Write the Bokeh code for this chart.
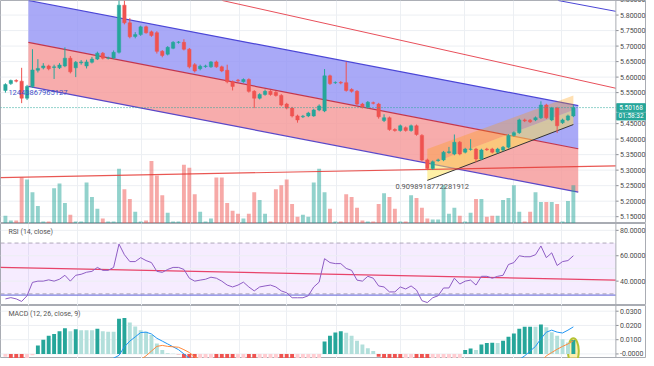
from bokeh.plotting import figure
from bokeh.layouts import column
from bokeh.models import (Range1d, FixedTicker, Span, Label, BoxAnnotation, ColumnDataSource)
from bokeh.core.properties import value
from bokeh.embed import file_html
from bokeh.resources import INLINE

# ---------------- data ----------------
opens = [5.557,5.579,5.589,5.587,5.532,5.570,5.622,5.630,5.636,5.631,
         5.630,5.636,5.661,5.630,5.646,5.636,5.648,5.658,5.677,5.661,
         5.662,5.680,5.832,5.775,5.731,5.737,5.762,5.746,5.743,5.683,
         5.674,5.693,5.712,5.712,5.690,5.640,5.627,5.634,5.633,5.649,
         5.633,5.622,5.585,5.590,5.585,5.592,5.554,5.532,5.544,5.554,
         5.551,5.541,5.513,5.500,5.475,5.472,5.475,5.475,5.494,5.491,
         5.604,5.582,5.583,5.582,5.560,5.554,5.513,5.503,5.517,5.513,
         5.460,5.469,5.431,5.428,5.437,5.428,5.443,5.412,5.333,5.305,
         5.331,5.333,5.357,5.352,5.390,5.358,5.367,5.368,5.336,5.368,
         5.368,5.358,5.365,5.374,5.412,5.421,5.462,5.461,5.462,5.469,
         5.510,5.462,5.500,5.453,5.462,5.475]
highs = [5.580,5.592,5.593,5.630,5.575,5.690,5.658,5.645,5.640,5.640,
         5.645,5.696,5.668,5.652,5.655,5.656,5.665,5.682,5.681,5.666,
         5.686,5.847,5.847,5.790,5.745,5.766,5.766,5.750,5.748,5.687,
         5.700,5.716,5.716,5.722,5.694,5.645,5.640,5.640,5.652,5.653,
         5.637,5.640,5.589,5.594,5.596,5.596,5.558,5.548,5.560,5.558,
         5.555,5.545,5.517,5.504,5.479,5.478,5.488,5.498,5.512,5.626,
         5.608,5.586,5.587,5.649,5.564,5.558,5.517,5.523,5.521,5.517,
         5.480,5.473,5.435,5.447,5.441,5.447,5.447,5.416,5.337,5.331,
         5.337,5.362,5.375,5.415,5.394,5.372,5.400,5.372,5.369,5.372,
         5.372,5.372,5.378,5.416,5.425,5.466,5.466,5.465,5.473,5.522,
         5.514,5.504,5.504,5.466,5.479,5.510]
lows = [5.550,5.575,5.583,5.516,5.526,5.565,5.615,5.625,5.622,5.594,
        5.626,5.632,5.612,5.600,5.640,5.628,5.644,5.655,5.657,5.657,
        5.658,5.676,5.770,5.725,5.725,5.733,5.740,5.730,5.676,5.664,
        5.670,5.690,5.708,5.686,5.628,5.615,5.622,5.630,5.630,5.630,
        5.616,5.580,5.557,5.584,5.582,5.550,5.500,5.528,5.540,5.540,
        5.537,5.506,5.496,5.470,5.453,5.468,5.471,5.472,5.490,5.487,
        5.575,5.578,5.577,5.553,5.550,5.509,5.499,5.499,5.512,5.466,
        5.455,5.427,5.424,5.424,5.424,5.424,5.411,5.329,5.300,5.301,
        5.327,5.329,5.353,5.348,5.348,5.354,5.363,5.325,5.332,5.362,
        5.354,5.354,5.361,5.370,5.408,5.417,5.455,5.452,5.458,5.465,
        5.465,5.458,5.420,5.449,5.458,5.471]
closes = [5.576,5.589,5.587,5.532,5.570,5.623,5.628,5.636,5.627,5.633,
          5.639,5.661,5.617,5.648,5.649,5.649,5.658,5.677,5.661,5.662,
          5.680,5.832,5.775,5.730,5.737,5.762,5.743,5.734,5.683,5.670,
          5.696,5.712,5.713,5.690,5.633,5.620,5.635,5.636,5.649,5.633,
          5.620,5.585,5.570,5.588,5.592,5.554,5.532,5.544,5.554,5.544,
          5.541,5.510,5.500,5.475,5.462,5.474,5.484,5.494,5.507,5.604,
          5.579,5.583,5.581,5.557,5.554,5.513,5.503,5.519,5.516,5.472,
          5.469,5.431,5.428,5.443,5.428,5.443,5.415,5.333,5.305,5.327,
          5.333,5.358,5.359,5.390,5.352,5.368,5.368,5.336,5.365,5.366,
          5.358,5.368,5.374,5.412,5.421,5.462,5.459,5.456,5.469,5.510,
          5.469,5.500,5.443,5.462,5.475,5.50168]
volumes = [8,3,3,47,45,32,18,2,2,36,
           41,21,9,2,2,42,27,15,5,2,
           2,56,35,25,12,2,3,64,49,29,
           11,2,2,60,57,30,12,2,5,47,
           47,21,13,10,5,10,32,24,10,2,
           35,39,45,20,7,9,7,42,56,32,
           15,2,2,30,27,16,3,2,2,20,
           31,27,15,2,2,29,26,16,5,4,
           4,39,10,16,8,2,11,25,25,7,
           8,8,24,26,39,12,2,12,32,22,
           22,22,20,2,23,39]
rsi = [26,27,26,24,28.5,39,40,40,41,40,
       41.5,44.6,40,44.6,45.4,47,47.7,50.8,48.5,48.5,
       50.8,69.2,60.8,55.4,55.4,58.5,56.2,54.6,47.7,46.9,
       49.2,50.8,50.8,49.2,42.3,40,40.8,41.5,43.1,42.3,
       40,36.9,35.4,36.9,39.2,35.4,32.3,35.4,36.2,36.9,
       35.4,32.3,30.8,26.9,26.9,26.9,28.5,35.4,39.2,57.7,
       54.6,53.8,53.8,50,48.5,40.8,40,43.8,42.3,36.2,
       35.4,31.5,31.5,35.4,33.8,36.2,33,24.6,23.1,26.9,
       28.5,34.6,34.6,42.3,37.7,40,40.8,36.9,43.8,43.8,
       42.3,43.8,44.6,53.1,54.6,60,59.2,59.2,60.8,67.7,
       58.5,62.3,52.3,55.4,56.2,60]
macd_hist = [-0.002,-0.003,-0.004,-0.006,-0.004,-0.001,0.006,0.010,0.0127,0.014,
             0.016,0.018,0.016,0.0173,0.0167,0.0167,0.0167,0.0177,0.016,0.0155,
             0.0155,0.0247,0.0253,0.022,0.0193,0.0167,0.0155,0.0133,0.0073,0.0027,
             0.0004,0.0002,-0.0003,-0.004,-0.008,-0.010,-0.009,-0.008,-0.006,-0.007,
             -0.009,-0.010,-0.011,-0.010,-0.009,-0.010,-0.012,-0.011,-0.010,-0.009,
             -0.009,-0.011,-0.013,-0.015,-0.014,-0.012,-0.010,-0.007,-0.003,0.0087,
             0.0127,0.015,0.016,0.0148,0.0127,0.0093,0.0067,0.004,0.002,-0.002,
             -0.004,-0.007,-0.009,-0.010,-0.009,-0.008,-0.010,-0.014,-0.016,-0.015,
             -0.013,-0.010,-0.008,-0.005,-0.004,0.0027,0.0038,0.0027,0.0067,0.0077,
             0.0078,0.0076,0.0093,0.012,0.0143,0.0177,0.019,0.0191,0.019,0.0207,
             0.0187,0.0153,0.0127,0.0103,0.008,0.0097]
macd_line = [-0.030,-0.029,-0.028,-0.029,-0.028,-0.025,-0.023,-0.021,-0.019,-0.017,
             -0.015,-0.013,-0.012,-0.010,-0.009,-0.008,-0.007,-0.005,-0.005,-0.004,
             -0.003,-0.001,0.005,0.009,0.012,0.015,0.0153,0.014,0.011,0.009,
             0.007,0.005,0.003,0.000,-0.003,-0.006,-0.008,-0.009,-0.010,-0.012,
             -0.014,-0.017,-0.019,-0.020,-0.021,-0.023,-0.025,-0.026,-0.027,-0.028,
             -0.030,-0.032,-0.034,-0.036,-0.037,-0.037,-0.036,-0.034,-0.031,-0.024,
             -0.020,-0.017,-0.015,-0.014,-0.014,-0.015,-0.016,-0.016,-0.017,-0.019,
             -0.021,-0.023,-0.025,-0.026,-0.026,-0.026,-0.028,-0.032,-0.035,-0.035,
             -0.034,-0.032,-0.030,-0.027,-0.026,-0.024,-0.022,-0.021,-0.018,-0.016,
             -0.014,-0.012,-0.010,-0.007,-0.005,-0.004,-0.0013,0.002,0.0053,0.0107,
             0.0153,0.0167,0.0153,0.0147,0.0167,0.019]
signal_line = [-0.026,-0.027,-0.027,-0.026,-0.025,-0.024,-0.023,-0.022,-0.021,-0.020,
               -0.019,-0.018,-0.017,-0.016,-0.015,-0.014,-0.013,-0.012,-0.011,-0.010,
               -0.009,-0.008,-0.007,-0.006,-0.005,-0.004,-0.0013,0.002,0.0053,0.006,
               0.0053,0.005,0.0047,0.003,0.001,-0.002,-0.004,-0.005,-0.006,-0.007,
               -0.008,-0.009,-0.010,-0.011,-0.012,-0.013,-0.014,-0.015,-0.016,-0.017,
               -0.018,-0.019,-0.020,-0.021,-0.022,-0.023,-0.024,-0.025,-0.026,-0.027,
               -0.027,-0.027,-0.026,-0.025,-0.024,-0.023,-0.022,-0.021,-0.020,-0.020,
               -0.020,-0.020,-0.020,-0.021,-0.021,-0.022,-0.022,-0.023,-0.024,-0.025,
               -0.026,-0.027,-0.028,-0.028,-0.027,-0.026,-0.025,-0.024,-0.023,-0.022,
               -0.021,-0.020,-0.019,-0.018,-0.017,-0.015,-0.013,-0.011,-0.009,-0.006,
               -0.0013,0.001,0.0033,0.0053,0.007,0.0093]

n = len(closes)
for arr in (opens, highs, lows, volumes, rsi, macd_hist, macd_line, signal_line):
    assert len(arr) == n
idx = list(range(n))

last_price = 5.50168
last_price_label = "5.50168"
countdown = "01:58:32"
countdown_level = 5.4734
price_ticks = [5.15, 5.20, 5.25, 5.30, 5.35, 5.40, 5.45, 5.55, 5.60, 5.65, 5.70, 5.75, 5.80, 5.85]
price_labels = ["5.15000", "5.20000", "5.25000", "5.30000", "5.35000", "5.40000", "5.45000",
                "5.55000", "5.60000", "5.65000", "5.70000", "5.75000", "5.80000", "5.85000"]
rsi_ticks = [40, 60, 80]
rsi_labels = ["40.0000", "60.0000", "80.0000"]
rsi_grid = [40, 50, 60, 80]
macd_ticks = [0.0, 0.01, 0.02, 0.03]
macd_labels = ["-0.0000", "0.0100", "0.0200", "0.0300"]
day_lines = [4.2, 13.3, 25.2, 34.3, 43.3, 52.0, 61.2, 73.0, 84.9, 94.0, 102.8]

# drawing tools (anchor points, in bar index / price)
chan_x = [4.24, 105.9]
chan_up = [5.847, 5.508]
chan_mid = [5.712, 5.369]
chan_low = [5.570, 5.229]
asc_x = [78.0, 105.0]
asc_up = [5.368, 5.541]
asc_mid = [5.317, 5.494]
asc_low = [5.267, 5.447]
trend_red_x = [40.1, 112.86]
trend_red_y = [5.847, 5.564]
trend_blue_x = [102.2, 112.86]
trend_blue_y = [5.847, 5.812]
flat_red_x = [-0.91, 112.86]
flat_red_y = [5.276, 5.314]
rsi_trend_x = [-0.91, 112.86]
rsi_trend_y = [50.8, 40.8]
rsi_blue_level = 29

# ---------------- styling ----------------
UP = "#26a69a"
DOWN = "#ef5350"
GRID = "#eceff3"
FONT = "Roboto"
X0 = -0.91
AX = 112.86          # bar-index position of the price-scale edge
XR = Range1d(X0, 118.52)
W = 646


def base_fig(h, yr):
    f = figure(width=W, height=h, x_range=XR, y_range=yr, output_backend="svg",
               toolbar_location=None, y_axis_location=None, x_axis_location=None,
               min_border_left=0, min_border_right=0, min_border_top=0, min_border_bottom=0,
               outline_line_color="#a9acb3", outline_line_width=1,
               background_fill_color="white", border_fill_color="white")
    f.xgrid.ticker = FixedTicker(ticks=day_lines)
    f.xgrid.grid_line_color = GRID
    f.ygrid.grid_line_color = None
    return f


def hgrid(f, levels):
    k = len(levels)
    f.segment(x0=[X0] * k, y0=levels, x1=[AX] * k, y1=levels, line_color=GRID, line_width=1)


def price_scale(f, ticks, labels, tick_len):
    k = len(ticks)
    f.add_layout(Span(location=AX, dimension="height", line_color="#a9acb3", line_width=1))
    f.segment(x0=[AX] * k, y0=ticks, x1=[AX + tick_len] * k, y1=ticks,
              line_color="#8a8d94", line_width=1)
    f.text(x=[AX + 0.75] * k, y=ticks, text=labels, text_font=value(FONT),
           text_font_size=value("7px"), text_color="#4a4a4a", text_baseline="middle",
           text_align="left")

# ---------------- main price panel ----------------
p = base_fig(223, Range1d(5.128, 5.847))
hgrid(p, price_ticks)

p.varea(x=chan_x, y1=chan_mid, y2=chan_up, fill_color="#9494f5", fill_alpha=0.8)
p.varea(x=chan_x, y1=chan_low, y2=chan_mid, fill_color="#f59797", fill_alpha=0.8)
p.line(chan_x, chan_up, line_color="#4b46d6", line_width=1.2)
p.line(chan_x, chan_mid, line_color="#c2364e", line_width=1.2)
p.line(chan_x, chan_low, line_color="#5a48c8", line_width=1.2)

p.varea(x=asc_x, y1=asc_mid, y2=asc_up, fill_color="#ff9800", fill_alpha=0.3)
p.varea(x=asc_x, y1=asc_low, y2=asc_mid, fill_color="#ffe14d", fill_alpha=0.5)
p.line(asc_x, asc_low, line_color="#333333", line_width=1)

p.line(trend_red_x, trend_red_y, line_color="#e8505b", line_width=1)
p.line(trend_blue_x, trend_blue_y, line_color="#4b46d6", line_width=1)

p.extra_y_ranges = {"vol": Range1d(0, 228)}
up_flags = [c >= o for o, c in zip(opens, closes)]
cols = [UP if u else DOWN for u in up_flags]
src = ColumnDataSource(dict(x=idx, o=opens, h=highs, l=lows, c=closes, v=volumes,
                            top=[max(o, c) for o, c in zip(opens, closes)],
                            bot=[min(o, c) for o, c in zip(opens, closes)], col=cols))
p.vbar(x="x", top="v", bottom=0, width=0.72, fill_color="col", line_color=None,
       fill_alpha=0.5, y_range_name="vol", source=src)

p.line(flat_red_x, flat_red_y, line_color="#e53935", line_width=1.2, line_alpha=0.85)

p.segment(x0="x", y0="h", x1="x", y1="l", line_color="col", line_width=1, source=src)
p.vbar(x="x", top="top", bottom="bot", width=0.62, fill_color="col", line_color="col",
       line_width=0.5, source=src)

p.line([X0, AX], [last_price, last_price], line_color="#26a69a", line_dash="1 2", line_width=1)

p.add_layout(Label(x=0.55, y=5.5506, text="12443867965127", text_font=FONT,
                   text_font_size="7.5px", text_color="#3f51c8", text_baseline="middle"))
p.add_layout(Label(x=72.1, y=5.2478, text="0.9098918772281912", text_font=FONT,
                   text_font_size="7.5px", text_color="#555555", text_baseline="middle"))

price_scale(p, price_ticks, price_labels, 0.5)

# last price + countdown tags on the price scale
p.quad(left=[AX + 0.1], right=[AX + 5.45], bottom=[last_price - 0.0125],
       top=[last_price + 0.0125], fill_color=UP, line_color=UP)
p.quad(left=[AX + 0.1], right=[AX + 5.45], bottom=[countdown_level - 0.0115],
       top=[countdown_level + 0.0115], fill_color=UP, line_color=UP)
p.text(x=[AX + 2.8], y=[last_price], text=[last_price_label], text_font=value(FONT),
       text_font_size=value("6.5px"), text_color="white", text_baseline="middle",
       text_align="center")
p.text(x=[AX + 2.8], y=[countdown_level], text=[countdown], text_font=value(FONT),
       text_font_size=value("6.5px"), text_color="white", text_baseline="middle",
       text_align="center")

# ---------------- RSI panel ----------------
r = base_fig(82, Range1d(20.8, 85.4))
hgrid(r, rsi_grid)
r.add_layout(BoxAnnotation(left=X0, right=AX, bottom=30, top=70, fill_color="#9c27ff",
                           fill_alpha=0.09, line_color=None, level="underlay"))
r.line([X0, AX], [70, 70], line_color="#b0a8bb", line_dash="4 3", line_width=1)
r.line([X0, AX], [30, 30], line_color="#b0a8bb", line_dash="4 3", line_width=1)
r.line([X0, AX], [rsi_blue_level, rsi_blue_level], line_color="#5a5ad6", line_width=1)
r.line(rsi_trend_x, rsi_trend_y, line_color="#e8436a", line_width=1.2)
r.line(idx, rsi, line_color="#8e5cc4", line_width=1)
r.add_layout(Label(x=0.55, y=78.5, text="RSI (14, close)", text_font=FONT,
                   text_font_size="7px", text_color="#555555", text_baseline="middle"))
price_scale(r, rsi_ticks, rsi_labels, 0.5)

# ---------------- MACD panel ----------------
m = base_fig(53, Range1d(-0.0032, 0.034))
hgrid(m, macd_ticks)
hcols = []
for i, hv in enumerate(macd_hist):
    prev = macd_hist[i - 1] if i > 0 else hv
    if hv >= 0:
        hcols.append("#26a69a" if hv > prev else "#b2dfdb")
    else:
        hcols.append("#ef5350" if hv < prev else "#ffcdd2")
m.ellipse(x=[idx[-1]], y=[0.002], width=2.0, height=0.018, fill_color="#ffe14d",
          fill_alpha=0.45, line_color="#b5c234", line_width=2)
m.vbar(x=idx, top=macd_hist, bottom=0, width=0.72, fill_color=hcols, line_color=None)
m.line(idx, macd_line, line_color="#2196f3", line_width=1)
m.line(idx, signal_line, line_color="#ff8a3d", line_width=1)
m.add_layout(Label(x=0.55, y=0.028, text="MACD (12, 26, close, 9)", text_font=FONT,
                   text_font_size="7px", text_color="#555555", text_baseline="middle"))
price_scale(m, macd_ticks, macd_labels, 0.5)

layout = column(p, r, m, spacing=0)
open("out.html", "w").write(file_html(layout, INLINE))
